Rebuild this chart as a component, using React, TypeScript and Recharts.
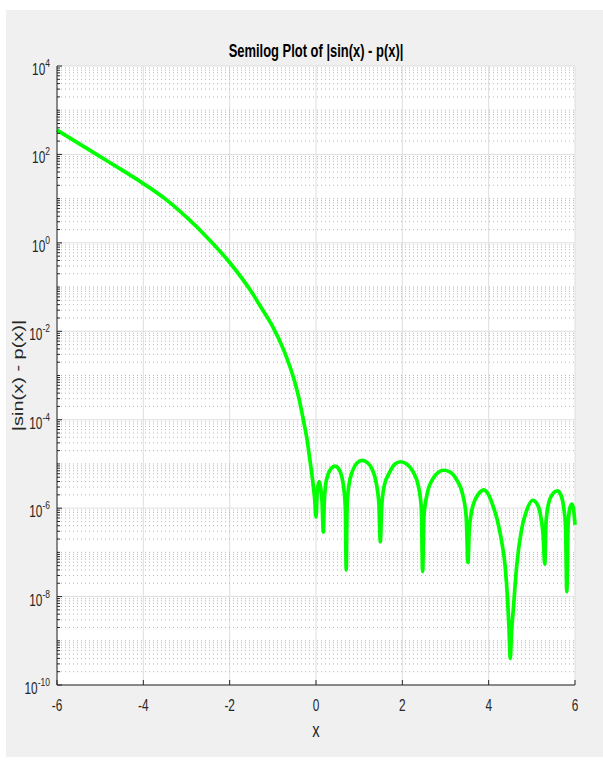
import React from 'react';
import { LineChart, Line, XAxis, YAxis, CartesianGrid } from 'recharts';

// x positions
const xValues = [
  -6, -5.5, -5, -4.5, -4, -3.5, -3, -2.5, -2, -1.5, -1.25, -1, -0.75, -0.5, -0.4, -0.3, -0.2, -0.15, -0.1, -0.06, -0.03, 0,
  0.03, 0.07, 0.11, 0.14, 0.17,
  0.19, 0.22, 0.27, 0.35, 0.44, 0.52, 0.6, 0.65, 0.68, 0.7,
  0.72, 0.76, 0.85, 0.95, 1.07, 1.2, 1.3, 1.4, 1.46, 1.49,
  1.52, 1.58, 1.7, 1.83, 1.96, 2.1, 2.25, 2.37, 2.44, 2.47,
  2.5, 2.57, 2.7, 2.82, 2.95, 3.1, 3.25, 3.4, 3.48, 3.52,
  3.55, 3.6, 3.7, 3.8, 3.88, 4.0, 4.1, 4.2, 4.3, 4.38, 4.44, 4.47, 4.5,
  4.53, 4.57, 4.65, 4.76, 4.88, 5.02, 5.12, 5.2, 5.26, 5.3,
  5.33, 5.4, 5.5, 5.59, 5.67, 5.74, 5.78, 5.81,
  5.84, 5.88, 5.93, 5.97, 6,
];

// |sin(x) - p(x)|
const errValues = [
  3.55e2, 1.78e2, 8.9e1, 4.47e1, 2.19e1, 1.0e1, 3.8, 1.26, 3.6e-1, 7.9e-2, 3.2e-2, 1.26e-2, 3.8e-3, 7.6e-4, 3.2e-4, 1.07e-4, 3.2e-5, 1.41e-5, 6.3e-6, 3.0e-6, 1.58e-6, 6.3e-7,
  2.5e-6, 4.0e-6, 2.8e-6, 1.41e-6, 2.9e-7,
  1.26e-6, 3.2e-6, 5.4e-6, 7.9e-6, 8.9e-6, 7.9e-6, 5.0e-6, 2.5e-6, 1.0e-6, 4.0e-8,
  1.0e-6, 3.2e-6, 7.1e-6, 1.05e-5, 1.2e-5, 1.05e-5, 7.6e-6, 3.5e-6, 1.12e-6, 1.74e-7,
  1.0e-6, 3.2e-6, 6.3e-6, 1.0e-5, 1.12e-5, 1.0e-5, 6.6e-6, 3.2e-6, 1.0e-6, 3.7e-8,
  6.3e-7, 2.0e-6, 4.5e-6, 6.3e-6, 7.2e-6, 6.6e-6, 4.5e-6, 2.0e-6, 6.3e-7, 5.9e-8,
  3.2e-7, 7.9e-7, 1.66e-6, 2.3e-6, 2.6e-6, 2.0e-6, 1.12e-6, 5.4e-7, 1.78e-7, 5.0e-8, 7.9e-9, 2.0e-9, 4.0e-10,
  1.58e-9, 5.0e-9, 5.0e-8, 3.2e-7, 8.9e-7, 1.51e-6, 1.26e-6, 7.1e-7, 2.5e-7, 5.4e-8,
  5.0e-7, 1.41e-6, 2.2e-6, 2.45e-6, 2.0e-6, 1.0e-6, 4.0e-7, 1.29e-8,
  4.0e-7, 1.0e-6, 1.23e-6, 8.9e-7, 4.2e-7,
];

const xTicks = [-6, -4, -2, 0, 2, 4, 6];
const yMajorTicks = [1e-10, 1e-8, 1e-6, 1e-4, 1e-2, 1, 1e2, 1e4];
const yExponents = [-10, -8, -6, -4, -2, 0, 2, 4];

const yMinorTicks: number[] = [];
for (let k = -10; k <= 3; k++) {
  for (let m = 1; m <= 9; m++) {
    if (m === 1 && k % 2 === 0) continue;
    yMinorTicks.push(Number(`${m}e${k}`));
  }
}
const yAllTicks = [...yMajorTicks, ...yMinorTicks].sort((a, b) => a - b);

const data = xValues.map((x, i) => ({ x, err: errValues[i] }));

const TITLE = 'Semilog Plot of |sin(x) - p(x)|';
const INK = '#262626';
const FONT = "'Liberation Sans', Arial, Helvetica, sans-serif";
const SQUEEZE = 0.74; // the reference picture is squashed sideways
const LEFT_MARGIN = 6;
const BOTTOM_MARGIN = 14;

function LeftTick(props: any) {
  const { x, y, payload } = props;
  const idx = yMajorTicks.indexOf(payload.value);
  const edge = x + LEFT_MARGIN;
  return (
    <g>
      <line x1={edge} x2={edge + (idx >= 0 ? 5 : 3)} y1={y} y2={y} stroke={INK} />
      {idx >= 0 && (
        <text
          transform={`translate(${x - 1},${y + 9}) scale(${SQUEEZE},1)`}
          textAnchor="end"
          fontSize={16}
          fill={INK}
          fontFamily={FONT}
        >
          <tspan>10</tspan>
          <tspan dy={-8} fontSize={11.5}>{yExponents[idx]}</tspan>
        </text>
      )}
    </g>
  );
}

function RightTick(props: any) {
  const { x, y, payload } = props;
  const major = yMajorTicks.includes(payload.value);
  return <line x1={x} x2={x - (major ? 5 : 3)} y1={y} y2={y} stroke={INK} />;
}

function BottomTick(props: any) {
  const { x, y, payload } = props;
  const edge = y - BOTTOM_MARGIN;
  return (
    <g>
      <line x1={x} x2={x} y1={edge} y2={edge - 5} stroke={INK} />
      <text
        transform={`translate(${x},${y + 12}) scale(${SQUEEZE},1)`}
        textAnchor="middle"
        fontSize={16}
        fill={INK}
        fontFamily={FONT}
      >
        {payload.value}
      </text>
    </g>
  );
}

function TopTick(props: any) {
  const { x, y } = props;
  return <line x1={x} x2={x} y1={y} y2={y + 5} stroke={INK} />;
}

export default function App() {
  return (
    <div style={{ position: 'relative', width: 603, height: 762, background: '#fff' }}>
      <style>{'body{margin:0}'}</style>
      <div style={{ position: 'absolute', left: 6, top: 10, right: 0, bottom: 5, background: '#f0f0f0' }} />
      <svg width={603} height={66} style={{ position: 'absolute', left: 0, top: 0 }}>
        <text
          transform={`translate(316,57) scale(0.74,1)`}
          textAnchor="middle"
          fontSize={17.5}
          fontWeight="bold"
          fill="#000"
          fontFamily={FONT}
        >
          {TITLE}
        </text>
      </svg>
      <div style={{ position: 'absolute', left: 0, top: 0 }}>
        <LineChart width={603} height={762} data={data} margin={{ top: 66, right: 28, bottom: 0, left: 0 }}>
          <CartesianGrid
            xAxisId="bottom"
            yAxisId="left"
            fill="#ffffff"
            stroke="#dedede"
            horizontalValues={yMajorTicks}
            verticalValues={xTicks}
          />
          <CartesianGrid
            xAxisId="bottom"
            yAxisId="left"
            vertical={false}
            stroke="#b8b8b8"
            strokeDasharray="1 3"
            horizontalValues={yMinorTicks}
          />
          <XAxis
            xAxisId="bottom"
            dataKey="x"
            type="number"
            domain={[-6, 6]}
            ticks={xTicks}
            interval={0}
            height={77}
            tickSize={0}
            tickMargin={BOTTOM_MARGIN}
            tickLine={false}
            tick={<BottomTick />}
            axisLine={{ stroke: INK }}
            label={(p: any) => (
              <text
                transform={`translate(${p.viewBox.x + p.viewBox.width / 2},${p.viewBox.y + 52}) scale(${SQUEEZE},1)`}
                textAnchor="middle"
                fontSize={20}
                fill={INK}
                fontFamily={FONT}
              >
                x
              </text>
            )}
          />
          <XAxis
            xAxisId="top"
            orientation="top"
            dataKey="x"
            type="number"
            domain={[-6, 6]}
            ticks={xTicks}
            interval={0}
            height={0}
            tickSize={0}
            tickMargin={0}
            tickLine={false}
            tick={<TopTick />}
            axisLine={{ stroke: INK }}
          />
          <YAxis
            yAxisId="left"
            scale="log"
            type="number"
            domain={[1e-10, 1e4]}
            allowDataOverflow
            ticks={yAllTicks}
            interval={0}
            width={57}
            tickSize={0}
            tickMargin={LEFT_MARGIN}
            tickLine={false}
            tick={<LeftTick />}
            axisLine={{ stroke: INK }}
            label={(p: any) => {
              const cx = 23;
              const cy = p.viewBox.y + p.viewBox.height / 2;
              return (
                <text
                  transform={`translate(${cx},${cy}) rotate(-90) scale(1,${SQUEEZE})`}
                  textAnchor="middle"
                  fontSize={20}
                  fill={INK}
                  fontFamily={FONT}
                >
                  |sin(x) - p(x)|
                </text>
              );
            }}
          />
          <YAxis
            yAxisId="right"
            orientation="right"
            scale="log"
            type="number"
            domain={[1e-10, 1e4]}
            allowDataOverflow
            ticks={yAllTicks}
            interval={0}
            width={0}
            tickSize={0}
            tickMargin={0}
            tickLine={false}
            tick={<RightTick />}
            axisLine={{ stroke: INK }}
          />
          <Line
            xAxisId="bottom"
            yAxisId="left"
            type="monotone"
            dataKey="err"
            stroke="#00ff00"
            strokeWidth={3.7}
            dot={false}
            isAnimationActive={false}
          />
        </LineChart>
      </div>
    </div>
  );
}
